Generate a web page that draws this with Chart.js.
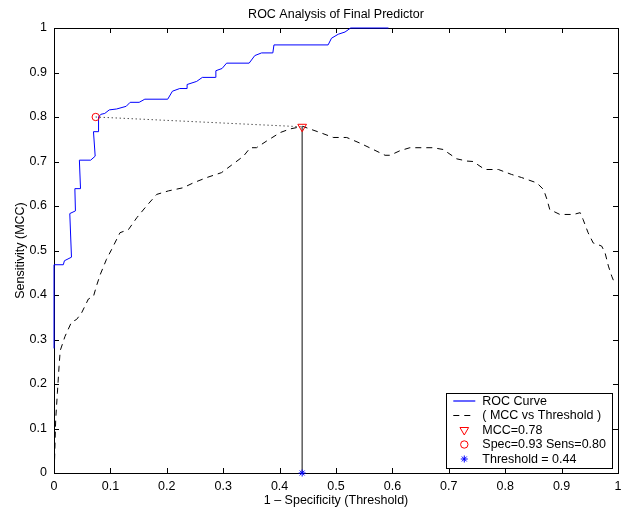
<!DOCTYPE html>
<html>
<head>
<meta charset="UTF-8">
<title>ROC Analysis of Final Predictor</title>
<script src="https://cdn.jsdelivr.net/npm/chart.js@4.4.1/dist/chart.umd.min.js"></script>
<style>
    html, body { margin: 0; padding: 0; background: #fff; }
    #rocChart { display: block; }
</style>
</head>
<body>
<canvas id="rocChart" width="628" height="508"></canvas>
<script>
    const chartTitle = 'ROC Analysis of Final Predictor';
    const xAxisTitle = '1 \u2013 Specificity (Threshold)';
    const yAxisTitle = 'Sensitivity (MCC)';
    const tickLabels = ['0', '0.1', '0.2', '0.3', '0.4', '0.5', '0.6', '0.7', '0.8', '0.9', '1'];

    // ROC curve (1 - specificity, sensitivity)
    const rocX = [0, 0, 0.0165, 0.0185, 0.031, 0.028, 0.038, 0.037, 0.047, 0.045, 0.065, 0.073, 0.070, 0.079,
        0.079, 0.083, 0.090, 0.098, 0.111, 0.128, 0.135, 0.151, 0.161, 0.2016, 0.210, 0.223, 0.236, 0.236,
        0.253, 0.263, 0.286, 0.287, 0.298, 0.306, 0.346, 0.356, 0.368, 0.388, 0.390, 0.486, 0.492, 0.504,
        0.516, 0.526, 0.593];
    const rocY = [0.28, 0.468, 0.468, 0.477, 0.485, 0.583, 0.589, 0.639, 0.639, 0.703, 0.703, 0.712, 0.767, 0.767,
        0.800, 0.806, 0.808, 0.816, 0.818, 0.824, 0.833, 0.833, 0.840, 0.840, 0.858, 0.864, 0.864, 0.873,
        0.880, 0.889, 0.889, 0.904, 0.909, 0.921, 0.921, 0.938, 0.944, 0.944, 0.962, 0.962, 0.977, 0.986,
        0.991, 1.0, 1.0];

    // MCC against threshold
    const mccX = [0.001, 0.003, 0.006, 0.009, 0.011, 0.0195, 0.031, 0.040, 0.049, 0.061, 0.070, 0.076, 0.082,
        0.093, 0.102, 0.117, 0.132, 0.147, 0.164, 0.182, 0.203, 0.229, 0.247, 0.271, 0.297, 0.315, 0.336,
        0.348, 0.359, 0.377, 0.401, 0.418, 0.441, 0.454, 0.472, 0.495, 0.519, 0.543, 0.566, 0.587, 0.596,
        0.613, 0.631, 0.672, 0.690, 0.714, 0.732, 0.743, 0.764, 0.788, 0.811, 0.829, 0.856, 0.868, 0.874,
        0.879, 0.897, 0.921, 0.933, 0.938, 0.947, 0.956, 0.971, 0.977, 0.983, 0.989, 0.995];
    const mccY = [0.03, 0.12, 0.18, 0.24, 0.275, 0.307, 0.339, 0.345, 0.360, 0.391, 0.397, 0.423, 0.446,
        0.480, 0.502, 0.540, 0.547, 0.574, 0.600, 0.626, 0.634, 0.641, 0.652, 0.664, 0.675, 0.692, 0.712,
        0.731, 0.731, 0.746, 0.765, 0.773, 0.779, 0.773, 0.765, 0.754, 0.754, 0.741, 0.727, 0.714, 0.714,
        0.724, 0.731, 0.731, 0.727, 0.706, 0.701, 0.700, 0.682, 0.682, 0.671, 0.664, 0.652, 0.637, 0.615,
        0.592, 0.581, 0.581, 0.585, 0.570, 0.540, 0.517, 0.510, 0.495, 0.465, 0.442, 0.423];

    // chosen operating point
    const bestThreshold = 0.44;
    const bestMcc = 0.778;
    const bestFpr = 0.074;
    const bestSens = 0.80;

    const legendLabels = ['ROC Curve', '( MCC vs Threshold )', 'MCC=0.78', 'Spec=0.93 Sens=0.80', 'Threshold = 0.44'];

    const BLUE = '#0000ff';
    const RED = '#ff0000';
    const FONT = '"Liberation Sans", Arial, Helvetica, sans-serif';
    const FS = 12.5;
    Chart.defaults.font.family = FONT;
    Chart.defaults.font.size = FS;
    Chart.defaults.color = '#000';

    function toPoints(xs, ys) {
        return xs.map((x, i) => ({ x: x, y: ys[i] }));
    }

    function drawMarker(ctx, kind, x, y, r, color) {
        ctx.save();
        ctx.strokeStyle = color;
        ctx.lineWidth = 1;
        ctx.beginPath();
        if (kind === 'triangleDown') {
            ctx.moveTo(x - r * 0.866, y - r * 0.5);
            ctx.lineTo(x + r * 0.866, y - r * 0.5);
            ctx.lineTo(x, y + r);
            ctx.closePath();
        } else if (kind === 'circle') {
            ctx.arc(x, y, r, 0, Math.PI * 2);
        } else if (kind === 'star') {
            const d = r * 0.707;
            ctx.moveTo(x - r, y); ctx.lineTo(x + r, y);
            ctx.moveTo(x, y - r); ctx.lineTo(x, y + r);
            ctx.moveTo(x - d, y - d); ctx.lineTo(x + d, y + d);
            ctx.moveTo(x - d, y + d); ctx.lineTo(x + d, y - d);
        }
        ctx.stroke();
        ctx.restore();
    }

    // matlab style box, inward ticks, title and legend
    const axesBox = {
        id: 'axesBox',
        beforeDatasetsDraw(chart) {
            const { ctx, chartArea: a, scales } = chart;
            ctx.save();
            ctx.strokeStyle = '#000';
            ctx.lineWidth = 1;
            ctx.strokeRect(Math.round(a.left) + 0.5, Math.round(a.top) + 0.5,
                Math.round(a.right - a.left), Math.round(a.bottom - a.top));
            const len = 5;
            ctx.beginPath();
            scales.x.ticks.forEach(t => {
                const px = Math.round(scales.x.getPixelForValue(t.value)) + 0.5;
                ctx.moveTo(px, a.bottom); ctx.lineTo(px, a.bottom - len);
                ctx.moveTo(px, a.top); ctx.lineTo(px, a.top + len);
            });
            scales.y.ticks.forEach(t => {
                const py = Math.round(scales.y.getPixelForValue(t.value)) + 0.5;
                ctx.moveTo(a.left, py); ctx.lineTo(a.left + len, py);
                ctx.moveTo(a.right, py); ctx.lineTo(a.right - len, py);
            });
            ctx.stroke();

            ctx.fillStyle = '#000';
            ctx.font = FS + 'px ' + FONT;
            ctx.textAlign = 'center';
            ctx.textBaseline = 'alphabetic';
            ctx.fillText(chartTitle, (a.left + a.right) / 2, 18);
            ctx.restore();
        },
        afterDatasetsDraw(chart) {
            const { ctx, chartArea: a } = chart;
            const items = chart.data.datasets.filter(d => d.legendIndex !== undefined)
                .sort((p, q) => p.legendIndex - q.legendIndex);
            ctx.save();
            ctx.font = FS + 'px ' + FONT;
            const textW = Math.max(...items.map(d => ctx.measureText(legendLabels[d.legendIndex]).width));
            const rowH = 14.5;
            const right = a.right - 6;
            const bottom = a.bottom - 6;
            const w = 36 + textW + 6;
            const h = rowH * items.length + 2;
            const left = right - w;
            const top = bottom - h;
            ctx.fillStyle = '#fff';
            ctx.fillRect(left, top, w, h);
            ctx.strokeStyle = '#000';
            ctx.lineWidth = 1;
            ctx.strokeRect(Math.round(left) + 0.5, Math.round(top) + 0.5, Math.round(w), Math.round(h));
            items.forEach((d, i) => {
                const cy = top + 8.5 + i * rowH;
                if (d.legendKind === 'line') {
                    ctx.save();
                    ctx.strokeStyle = d.lineColor;
                    ctx.lineWidth = 1.2;
                    ctx.setLineDash(d.legendDash);
                    ctx.beginPath();
                    ctx.moveTo(left + 7, cy);
                    ctx.lineTo(left + 29, cy);
                    ctx.stroke();
                    ctx.restore();
                } else {
                    drawMarker(ctx, d.legendKind, left + 18, cy, d.pointRadius, d.markerColor);
                }
                ctx.fillStyle = '#000';
                ctx.textAlign = 'left';
                ctx.textBaseline = 'middle';
                ctx.fillText(legendLabels[d.legendIndex], left + 36, cy + 0.5);
            });
            ctx.restore();
        }
    };

    new Chart(document.getElementById('rocChart'), {
        type: 'scatter',
        data: {
            datasets: [
                {
                    data: toPoints(rocX, rocY),
                    showLine: true,
                    borderColor: BLUE,
                    borderWidth: 1,
                    pointRadius: 0,
                    order: 5,
                    clip: 2,
                    legendIndex: 0,
                    legendKind: 'line',
                    lineColor: BLUE,
                    legendDash: []
                },
                {
                    data: toPoints(mccX, mccY),
                    showLine: true,
                    borderColor: '#000',
                    borderWidth: 1,
                    borderDash: [6, 5],
                    pointRadius: 0,
                    order: 4,
                    clip: 2,
                    legendIndex: 1,
                    legendKind: 'line',
                    lineColor: '#000',
                    legendDash: [6, 5]
                },
                {
                    data: [{ x: bestFpr, y: bestSens }, { x: bestThreshold, y: bestMcc }],
                    showLine: true,
                    borderColor: '#000',
                    borderWidth: 1,
                    borderDash: [1, 3],
                    pointRadius: 0,
                    order: 3,
                    clip: 2
                },
                {
                    data: [{ x: bestThreshold, y: 0 }, { x: bestThreshold, y: bestMcc }],
                    showLine: true,
                    borderColor: '#444',
                    borderWidth: 1.3,
                    pointRadius: 0,
                    order: 3,
                    clip: 2
                },
                {
                    data: [{ x: bestThreshold, y: bestMcc }],
                    pointStyle: 'triangle',
                    rotation: 180,
                    pointRadius: 5,
                    pointBorderColor: RED,
                    pointBackgroundColor: 'rgba(0,0,0,0)',
                    pointBorderWidth: 1,
                    order: 1,
                    clip: false,
                    legendIndex: 2,
                    legendKind: 'triangleDown',
                    markerColor: RED
                },
                {
                    data: [{ x: bestFpr, y: bestSens }],
                    pointStyle: 'circle',
                    pointRadius: 3.7,
                    pointBorderColor: RED,
                    pointBackgroundColor: 'rgba(0,0,0,0)',
                    pointBorderWidth: 1,
                    order: 1,
                    clip: false,
                    legendIndex: 3,
                    legendKind: 'circle',
                    markerColor: RED
                },
                {
                    data: [{ x: bestThreshold, y: 0 }],
                    pointStyle: 'star',
                    pointRadius: 3.5,
                    pointBorderColor: BLUE,
                    pointBackgroundColor: BLUE,
                    pointBorderWidth: 1,
                    order: 0,
                    clip: false,
                    legendIndex: 4,
                    legendKind: 'star',
                    markerColor: BLUE
                }
            ]
        },
        options: {
            responsive: false,
            animation: false,
            devicePixelRatio: 1,
            layout: { padding: { left: 0, right: 10, top: 28, bottom: 0 } },
            plugins: {
                legend: { display: false },
                tooltip: { enabled: false },
                title: { display: false }
            },
            scales: {
                x: {
                    type: 'linear',
                    min: 0,
                    max: 1,
                    grid: { display: false, drawTicks: false },
                    border: { display: false },
                    ticks: {
                        stepSize: 0.1,
                        padding: 6,
                        maxRotation: 0,
                        callback: (v, i) => tickLabels[i]
                    },
                    title: { display: true, text: xAxisTitle, padding: { top: 0, bottom: 0 } },
                    afterFit: s => { s.height = 35; }
                },
                y: {
                    type: 'linear',
                    min: 0,
                    max: 1,
                    grid: { display: false, drawTicks: false },
                    border: { display: false },
                    ticks: {
                        stepSize: 0.1,
                        padding: 7,
                        callback: (v, i) => tickLabels[i]
                    },
                    title: { display: true, text: yAxisTitle, padding: { top: 13, bottom: 0 } },
                    afterFit: s => { s.width = 54; }
                }
            }
        },
        plugins: [axesBox]
    });
</script>
</body>
</html>
